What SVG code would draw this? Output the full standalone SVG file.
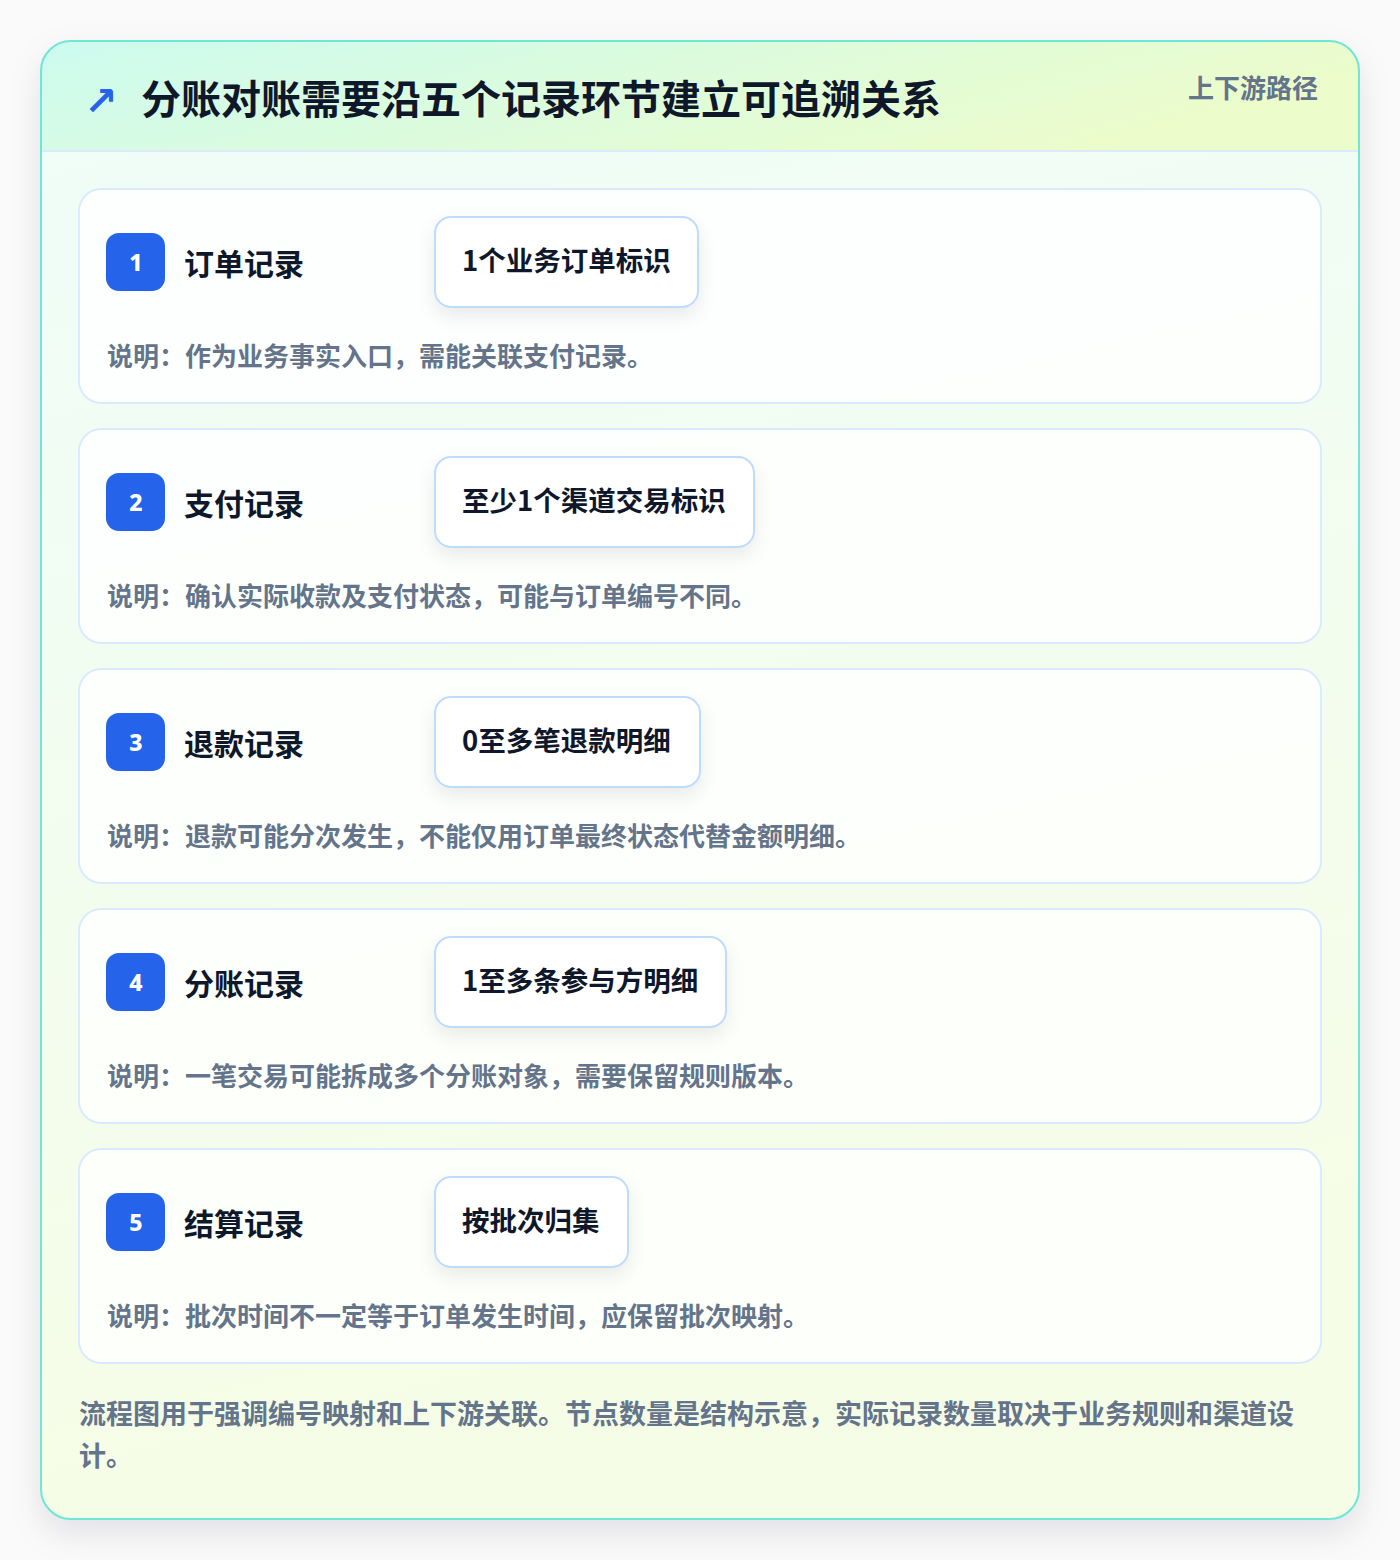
<svg xmlns="http://www.w3.org/2000/svg" width="1400" height="1560" viewBox="0 0 1400 1560">
<defs>
<linearGradient id="hdr" x1="0" y1="0" x2="1" y2="0.3">
<stop offset="0" stop-color="#ccfbef"/>
<stop offset="1" stop-color="#ecfccb"/>
</linearGradient>
<linearGradient id="body" x1="0" y1="0" x2="0.2" y2="1">
<stop offset="0" stop-color="#effdf9"/>
<stop offset="1" stop-color="#f6fde6"/>
</linearGradient>
<filter id="outerShadow" x="-10%" y="-10%" width="120%" height="120%">
<feDropShadow dx="0" dy="14" stdDeviation="16" flood-color="#0f172a" flood-opacity="0.10"/>
</filter>
<filter id="pillShadow" x="-20%" y="-30%" width="140%" height="180%">
<feDropShadow dx="0" dy="8" stdDeviation="9" flood-color="#0f172a" flood-opacity="0.08"/>
</filter>
<clipPath id="cardClip"><rect x="41" y="41" width="1318" height="1478" rx="30"/></clipPath>
</defs>
<style>
text{font-family:"Noto Sans CJK SC","Noto Sans",sans-serif;font-weight:700}
.card{fill:#ffffff;fill-opacity:0.8;stroke:#dbeafe;stroke-width:2}
.badge{fill:#2563eb}
.num{fill:#ffffff;font-size:23px;text-anchor:middle;font-family:"Noto Sans","Noto Sans CJK SC",sans-serif;font-weight:800}
.ttl{fill:#0f172a;font-size:30px}
.pill{fill:#ffffff;stroke:#bfdbfe;stroke-width:2}
.pt{fill:#0f172a;font-size:27.5px}
.desc{fill:#64748b;font-size:26px}
.foot{fill:#64748b;font-size:27px}
</style>
<rect width="1400" height="1560" fill="#fafafa"/>
<rect x="41" y="41" width="1318" height="1478" rx="30" fill="url(#body)" filter="url(#outerShadow)"/>
<g clip-path="url(#cardClip)">
<rect x="41" y="41" width="1318" height="110" fill="url(#hdr)"/>
<line x1="41" y1="151" x2="1359" y2="151" stroke="#dbeafe" stroke-width="2"/>
</g>
<rect x="41" y="41" width="1318" height="1478" rx="30" fill="none" stroke="#6ee7d4" stroke-width="2"/>
<g id="header">
<text x="84" y="115" fill="#2563eb" style="font-size:40px;font-family:'DejaVu Sans',sans-serif;font-weight:700">↗</text>
<text x="141" y="114" fill="#0f172a" style="font-size:40px">分账对账需要沿五个记录环节建立可追溯关系</text>
<text x="1318" y="98" fill="#64748b" text-anchor="end" style="font-size:26px">上下游路径</text>
</g>
<g id="connectors"></g>
<g id="node1">
<rect class="card" x="79" y="189" width="1242" height="214" rx="22"/>
<rect class="badge" x="106" y="233" width="59" height="58" rx="13"/>
<text class="num" x="136" y="271">1</text>
<text class="ttl" x="184" y="275">订单记录</text>
<rect class="pill" x="435" y="217" width="263" height="90" rx="16" filter="url(#pillShadow)"/>
<text class="pt" x="462" y="271">1个业务订单标识</text>
<text class="desc" x="107" y="366">说明：作为业务事实入口，需能关联支付记录。</text>
</g>
<g id="node2">
<rect class="card" x="79" y="429" width="1242" height="214" rx="22"/>
<rect class="badge" x="106" y="473" width="59" height="58" rx="13"/>
<text class="num" x="136" y="511">2</text>
<text class="ttl" x="184" y="515">支付记录</text>
<rect class="pill" x="435" y="457" width="319" height="90" rx="16" filter="url(#pillShadow)"/>
<text class="pt" x="462" y="511">至少1个渠道交易标识</text>
<text class="desc" x="107" y="606">说明：确认实际收款及支付状态，可能与订单编号不同。</text>
</g>
<g id="node3">
<rect class="card" x="79" y="669" width="1242" height="214" rx="22"/>
<rect class="badge" x="106" y="713" width="59" height="58" rx="13"/>
<text class="num" x="136" y="751">3</text>
<text class="ttl" x="184" y="755">退款记录</text>
<rect class="pill" x="435" y="697" width="265" height="90" rx="16" filter="url(#pillShadow)"/>
<text class="pt" x="462" y="751">0至多笔退款明细</text>
<text class="desc" x="107" y="846">说明：退款可能分次发生，不能仅用订单最终状态代替金额明细。</text>
</g>
<g id="node4">
<rect class="card" x="79" y="909" width="1242" height="214" rx="22"/>
<rect class="badge" x="106" y="953" width="59" height="58" rx="13"/>
<text class="num" x="136" y="991">4</text>
<text class="ttl" x="184" y="995">分账记录</text>
<rect class="pill" x="435" y="937" width="291" height="90" rx="16" filter="url(#pillShadow)"/>
<text class="pt" x="462" y="991">1至多条参与方明细</text>
<text class="desc" x="107" y="1086">说明：一笔交易可能拆成多个分账对象，需要保留规则版本。</text>
</g>
<g id="node5">
<rect class="card" x="79" y="1149" width="1242" height="214" rx="22"/>
<rect class="badge" x="106" y="1193" width="59" height="58" rx="13"/>
<text class="num" x="136" y="1231">5</text>
<text class="ttl" x="184" y="1235">结算记录</text>
<rect class="pill" x="435" y="1177" width="193" height="90" rx="16" filter="url(#pillShadow)"/>
<text class="pt" x="462" y="1231">按批次归集</text>
<text class="desc" x="107" y="1326">说明：批次时间不一定等于订单发生时间，应保留批次映射。</text>
</g>
<g id="footer">
<text class="foot" x="79" y="1424">流程图用于强调编号映射和上下游关联。节点数量是结构示意，实际记录数量取决于业务规则和渠道设</text>
<text class="foot" x="79" y="1466">计。</text>
</g>
</svg>
